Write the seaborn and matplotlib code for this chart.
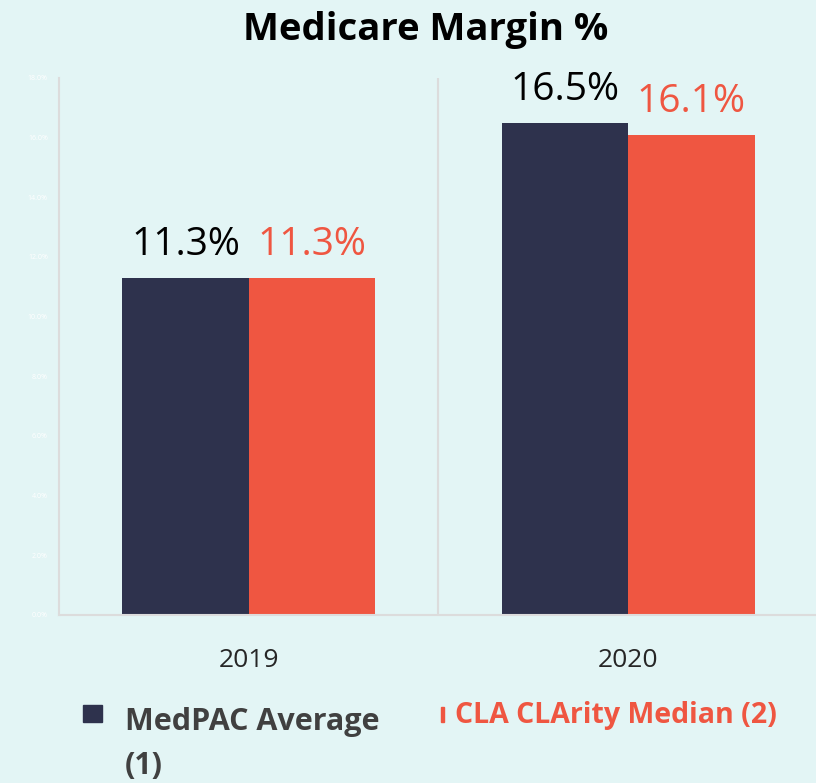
import pandas as pd
import seaborn as sns
import matplotlib.pyplot as plt
from matplotlib.patches import Rectangle

# chart values
years = ["2019", "2020"]
medpac = [11.3, 16.5]
clarity = [11.3, 16.1]
series_names = ["MedPAC Average (1)", "CLA CLArity Median (2)"]
y_ticks = [0, 2, 4, 6, 8, 10, 12, 14, 16, 18]

bg = "#E3F5F5"
navy = "#2E324D"
coral = "#EF5641"

df = pd.DataFrame({
    "Year": years * 2,
    "Margin": medpac + clarity,
    "Series": [series_names[0]] * 2 + [series_names[1]] * 2,
})

sns.set_style("white")
plt.rcParams["font.family"] = ["Open Sans", "DejaVu Sans"]

fig = plt.figure(figsize=(8.16, 7.83), dpi=100, facecolor=bg)
ax = fig.add_axes([0.0723, 0.2146, 0.93, 0.686])
ax.set_facecolor(bg)

sns.barplot(data=df, x="Year", y="Margin", hue="Series",
            palette=[navy, coral], width=0.667, saturation=1,
            linewidth=0, legend=False, ax=ax)

# value labels
for cont, col in zip(ax.containers, ["black", coral]):
    ax.bar_label(cont, labels=[f"{v:.1f}%" for v in cont.datavalues],
                 padding=10, fontsize=28, color=col)

ax.set_xlim(-0.5, 1.5)
ax.set_ylim(0, 18)
ax.set_yticks(y_ticks)
ax.set_yticklabels([f"{t:.1f}%" for t in y_ticks], color="white", fontsize=5)
ax.tick_params(axis="y", length=0, pad=8)
ax.tick_params(axis="x", length=0, labelsize=19, pad=24)
ax.set_xlabel("")
ax.set_ylabel("")

# category separator and spines
ax.axvline(0.5, color="#DCDCDC", lw=1.5)
for side in ["top", "right"]:
    ax.spines[side].set_visible(False)
for side in ["left", "bottom"]:
    ax.spines[side].set_color("#DCDCDC")
    ax.spines[side].set_linewidth(1.5)

fig.text(0.521, 0.962, "Medicare Margin %", ha="center", va="center",
         fontsize=27.5, fontweight="bold", color="black")

# legend drawn by hand (partly cropped in the source)
fig.patches.append(Rectangle((83 / 816, 1 - 722 / 783), 19 / 816, 17 / 783,
                             transform=fig.transFigure, color=navy))
fig.text(125 / 816, 1 - 722 / 783, "MedPAC Average", ha="left", va="center",
         fontsize=22, fontweight="bold", color="#404040")
fig.text(125 / 816, 1 - 766 / 783, "(1)", ha="left", va="center",
         fontsize=22, fontweight="bold", color="#404040")
fig.patches.append(Rectangle((441 / 816, 1 - 722 / 783), 3 / 816, 15 / 783,
                             transform=fig.transFigure, color=coral))
fig.text(455 / 816, 1 - 716 / 783, "CLA CLArity Median (2)", ha="left",
         va="center", fontsize=20.5, fontweight="bold", color=coral)

fig.savefig("out.png", dpi=100, facecolor=bg)
